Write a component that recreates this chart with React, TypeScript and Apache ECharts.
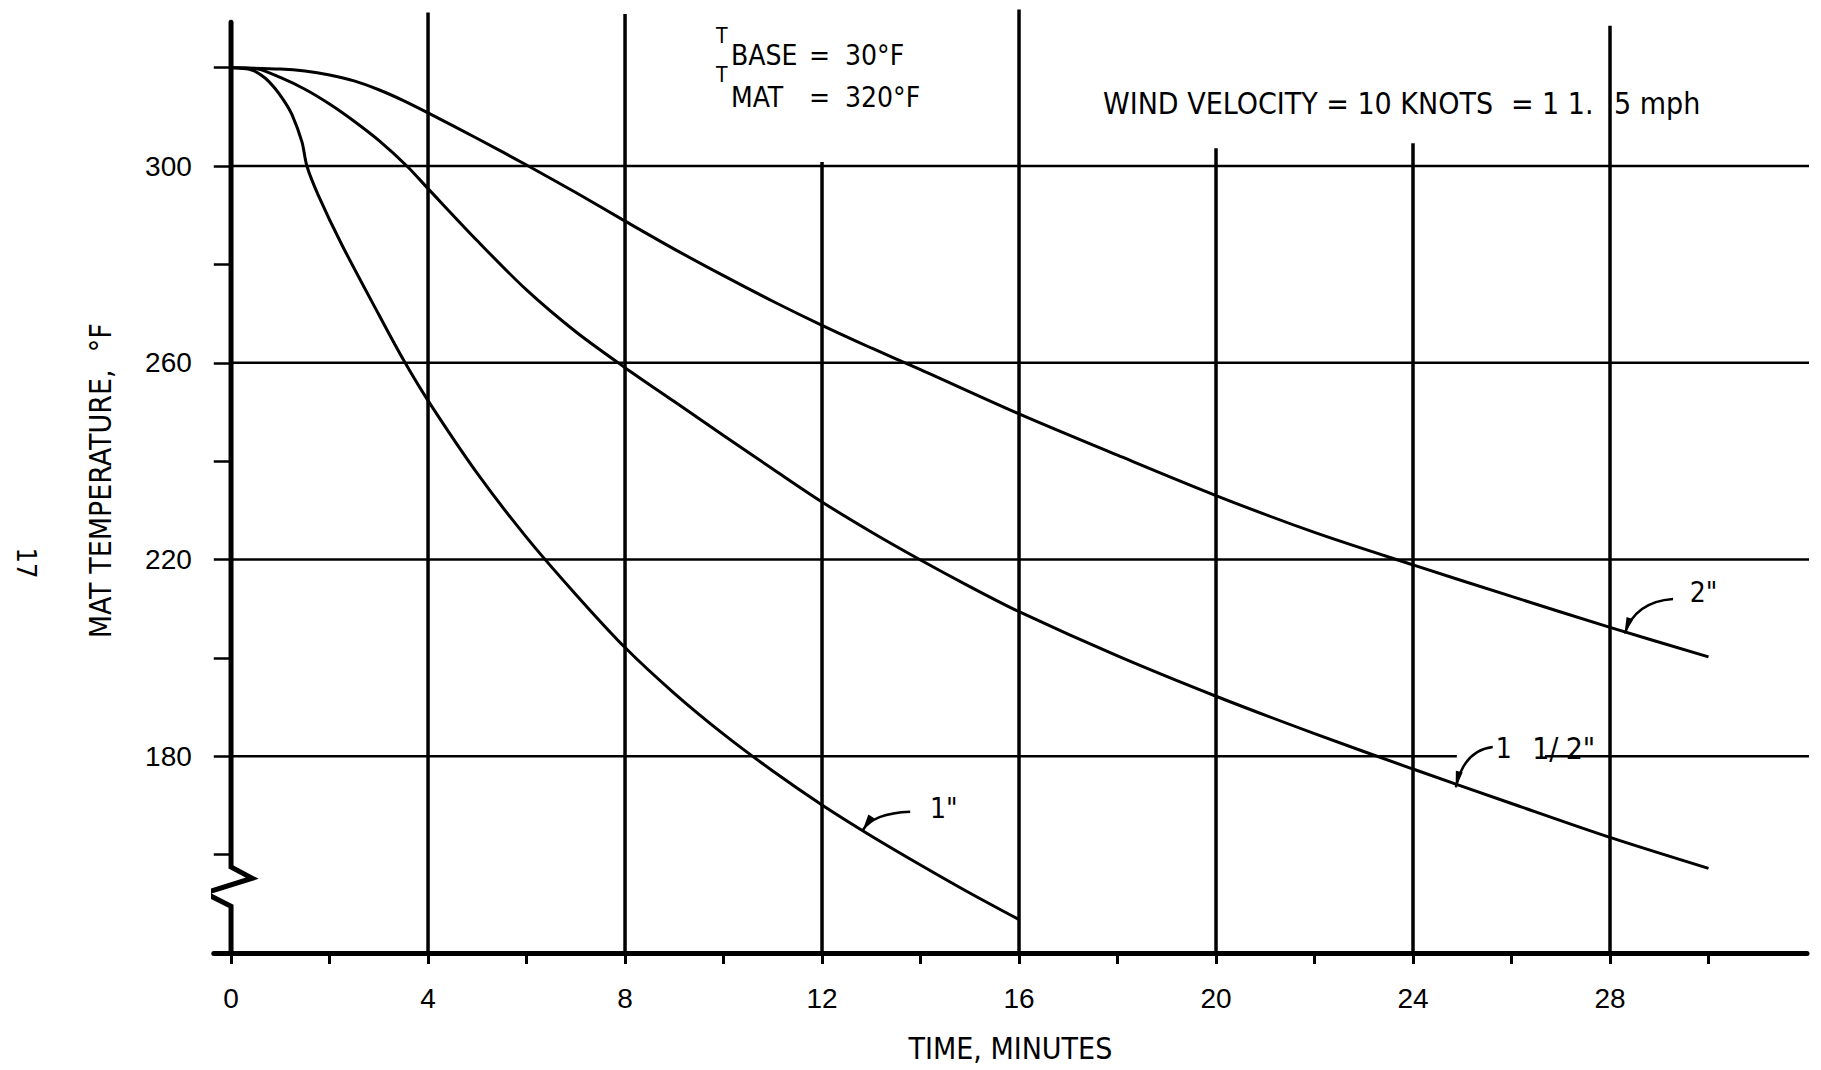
import React, { useEffect, useRef } from "react";
import * as echarts from "echarts";

// ---------------- data ----------------
const timeLabelValues = [0, 4, 8, 12, 16, 20, 24, 28];
const timeTickValues = [0, 2, 4, 6, 8, 10, 12, 14, 16, 18, 20, 22, 24, 26, 28, 30];
const tempLabelValues = [180, 220, 260, 300];
const tempTickValues = [160, 180, 200, 220, 240, 260, 280, 300, 320];

// vertical grid lines (minutes) and the temperature each one is drawn up to
const gridTimes = [4, 8, 12, 16, 20, 24, 28];
const gridTimeTops = [331.2, 330.9, 300.8, 331.8, 303.6, 304.6, 328.5];
// horizontal grid lines (deg F)
const gridTemps = [300, 260, 220, 180];
// gap in the 180 line where the 1 1/2" label sits
const gap180 = [24.89, 26.68];

// mat temperature curves [minutes, deg F]
const mat1in: [number, number][] = [
  [0, 320], [0.42, 319.5], [0.69, 317.9], [0.89, 315.8], [1.08, 313.2], [1.24, 310.4],
  [1.44, 304.9], [1.54, 300], [1.77, 294.1], [2.25, 284], [3, 269.8], [3.5, 260.6],
  [4, 252.3], [5, 237.5], [6, 224.5], [7, 212.9], [8, 202.1], [9, 192.8], [10, 184.5],
  [11, 177], [12, 170.1], [13, 163.8], [14, 157.9], [15, 152.2], [16, 146.8],
];
const mat15in: [number, number][] = [
  [0, 320], [0.55, 319.7], [1, 318], [1.5, 315.6], [2, 312.6], [2.5, 309.1], [3, 305.2],
  [3.57, 300], [4, 295.4], [5, 284.8], [6, 274.8], [7, 266.3], [8, 259], [9, 252.1],
  [10, 245.2], [11, 238.4], [12, 231.7], [13, 225.6], [14, 219.9], [15, 214.5], [16, 209.4],
  [18, 200.4], [20, 192.2], [22, 184.6], [24, 177.4], [26, 170.4], [28, 163.5], [30, 157.2],
];
const mat2in: [number, number][] = [
  [0, 320], [1, 319.7], [1.5, 319.3], [2, 318.5], [2.5, 317.3], [3, 315.5], [3.5, 313.3],
  [4, 310.8], [5, 305.6], [6, 300.2], [7, 294.6], [8, 288.8], [9, 283.1], [10, 277.7],
  [11, 272.5], [12, 267.6], [13, 263], [14, 258.6], [16, 249.6], [18, 241.2], [20, 233],
  [22, 225.5], [24, 218.9], [26, 212.5], [28, 206.2], [30, 200.2],
];

// y axis line with its break symbol
const yAxisBreak: [number, number][] = [
  [0, 329.2], [0, 157.5], [0.43, 155.2], [-0.53, 152.2], [0, 149.5], [0, 140],
];

// curve call-outs: label parts, leader start, leader tip (data coords)
const curveNotes = [
  { parts: [{ text: '1"', at: [14.19, 169.3], size: 28 }], from: [13.79, 168.7], tip: [12.83, 165.0] },
  { parts: [{ text: '2"', at: [29.62, 213.2], size: 28 }], from: [29.28, 211.97], tip: [28.3, 205.0] },
  {
    parts: [
      { text: "1", at: [25.68, 181.6], size: 28 },
      { text: "1/", at: [26.42, 181.6], size: 30 },
      { text: '2"', at: [27.1, 181.6], size: 30 },
    ],
    from: [25.62, 181.9],
    tip: [24.87, 173.7],
  },
];

const LETTER = '"DejaVu Sans Condensed", "DejaVu Sans", sans-serif';
const NUM = '"Liberation Sans", Arial, sans-serif';

function textEl(x: number, y: number, text: string, size: number, extra: any = {}) {
  return {
    type: "text",
    x,
    y,
    silent: true,
    ...extra,
    style: {
      text,
      fill: "#000",
      font: `${size}px ${LETTER}`,
      textAlign: extra.align || "left",
      textVerticalAlign: "middle",
      align: extra.align || "left",
      verticalAlign: "middle",
    },
  };
}

function lineSeries(data: [number, number][], width: number, z = 2) {
  return {
    type: "line",
    data,
    showSymbol: false,
    symbol: "none",
    clip: false,
    silent: true,
    z,
    lineStyle: { color: "#000", width, cap: "butt" },
  };
}

export default function App() {
  const ref = useRef<HTMLDivElement>(null);

  useEffect(() => {
    const el = ref.current!;
    const chart = echarts.init(el, null, { renderer: "svg" });

    const gridSeries: any[] = [];
    gridTimes.forEach((t, i) => {
      gridSeries.push(lineSeries([[t, 140], [t, gridTimeTops[i]]], 3.5, 1));
    });
    gridTemps.forEach((v) => {
      if (v === 180) {
        gridSeries.push(lineSeries([[0, v], [gap180[0], v]], 2.5, 1));
        gridSeries.push(lineSeries([[gap180[1], v], [32.2, v]], 2.5, 1));
      } else {
        gridSeries.push(lineSeries([[0, v], [32.2, v]], 2.5, 1));
      }
    });

    const curveSeries = [mat1in, mat15in, mat2in].map((d, i) => ({
      name: ['1"', '1 1/2"', '2"'][i],
      type: "line",
      data: d,
      smooth: 0.3,
      showSymbol: false,
      symbol: "none",
      silent: true,
      clip: false,
      z: 3,
      lineStyle: { color: "#000", width: 3 },
    }));

    const yLine = {
      ...lineSeries(yAxisBreak, 5, 4),
      lineStyle: { color: "#000", width: 5, cap: "round", join: "miter" },
    };

    chart.setOption({
      animation: false,
      backgroundColor: "#fff",
      grid: {
        left: 213.8,
        right: 14,
        top: 8.6,
        bottom: 117,
        containLabel: false,
        outerBoundsMode: "none",
      },
      xAxis: {
        type: "value",
        min: -0.35,
        max: 32,
        name: "TIME, MINUTES",
        nameLocation: "middle",
        nameGap: 80,
        nameTextStyle: { fontFamily: LETTER, fontSize: 30, color: "#000" },
        axisLine: { show: true, onZero: false, lineStyle: { color: "#000", width: 5, cap: "round" } },
        axisTick: {
          show: true,
          customValues: timeTickValues,
          length: 11,
          lineStyle: { color: "#000", width: 3 },
        },
        axisLabel: {
          show: true,
          customValues: timeLabelValues,
          margin: 31,
          fontFamily: NUM,
          fontSize: 28,
          color: "#000",
        },
        splitLine: { show: false },
      },
      yAxis: {
        type: "value",
        min: 140,
        max: 332,
        name: "MAT TEMPERATURE,  °F",
        nameLocation: "middle",
        nameRotate: 90,
        nameGap: 98,
        nameTextStyle: { fontFamily: LETTER, fontSize: 30, color: "#000" },
        axisLine: { show: false, onZero: false },
        axisTick: {
          show: true,
          inside: true,
          customValues: tempTickValues,
          length: 17,
          lineStyle: { color: "#000", width: 2.5 },
        },
        axisLabel: {
          show: true,
          customValues: tempLabelValues,
          margin: 22,
          fontFamily: NUM,
          fontSize: 28,
          color: "#000",
        },
        splitLine: { show: false },
      },
      series: [...gridSeries, ...curveSeries, yLine],
    });

    const px = (p: number[]) => chart.convertToPixel({ gridIndex: 0 }, p) as number[];
    const graphics: any[] = [];

    curveNotes.forEach((n) => {
      const s = px(n.from);
      const e = px(n.tip);
      const c = [e[0] + (s[0] - e[0]) * 0.22, s[1] + (e[1] - s[1]) * 0.08];
      graphics.push({
        type: "bezierCurve",
        silent: true,
        shape: { x1: s[0], y1: s[1], x2: e[0], y2: e[1], cpx1: c[0], cpy1: c[1] },
        style: { stroke: "#000", lineWidth: 2.5, fill: "none" },
      });
      const dx = e[0] - c[0];
      const dy = e[1] - c[1];
      const len = Math.hypot(dx, dy) || 1;
      const ux = dx / len;
      const uy = dy / len;
      const b = [e[0] - ux * 16, e[1] - uy * 16];
      graphics.push({
        type: "polygon",
        silent: true,
        shape: {
          points: [
            [e[0] + ux, e[1] + uy],
            [b[0] - uy * 3.5, b[1] + ux * 3.5],
            [b[0] + uy * 3.5, b[1] - ux * 3.5],
          ],
        },
        style: { fill: "#000" },
      });
      n.parts.forEach((p) => {
        const l = px(p.at);
        graphics.push(textEl(l[0], l[1], p.text, p.size));
      });
    });

    // header notes
    graphics.push(textEl(716, 36, "T", 21));
    graphics.push(textEl(731, 55, "BASE", 28));
    graphics.push(textEl(809, 55, "=", 28));
    graphics.push(textEl(845, 55, "30°F", 28));
    graphics.push(textEl(716, 75, "T", 21));
    graphics.push(textEl(731, 97, "MAT", 28));
    graphics.push(textEl(809, 97, "=", 28));
    graphics.push(textEl(845, 97, "320°F", 28));
    graphics.push(textEl(1103, 103, "WIND VELOCITY = 10 KNOTS", 30));
    graphics.push(textEl(1511, 103, "=", 30));
    graphics.push(textEl(1542, 103, "1 1.", 30));
    graphics.push(textEl(1614, 103, "5 mph", 30));
    // page number
    graphics.push(textEl(26, 563, "17", 27, { rotation: -Math.PI / 2, align: "center" }));

    chart.setOption({ graphic: graphics });

    return () => {
      chart.dispose();
    };
  }, []);

  return (
    <div
      ref={ref}
      style={{ position: "absolute", left: 0, top: 0, width: 1821, height: 1070, background: "#fff" }}
    />
  );
}
